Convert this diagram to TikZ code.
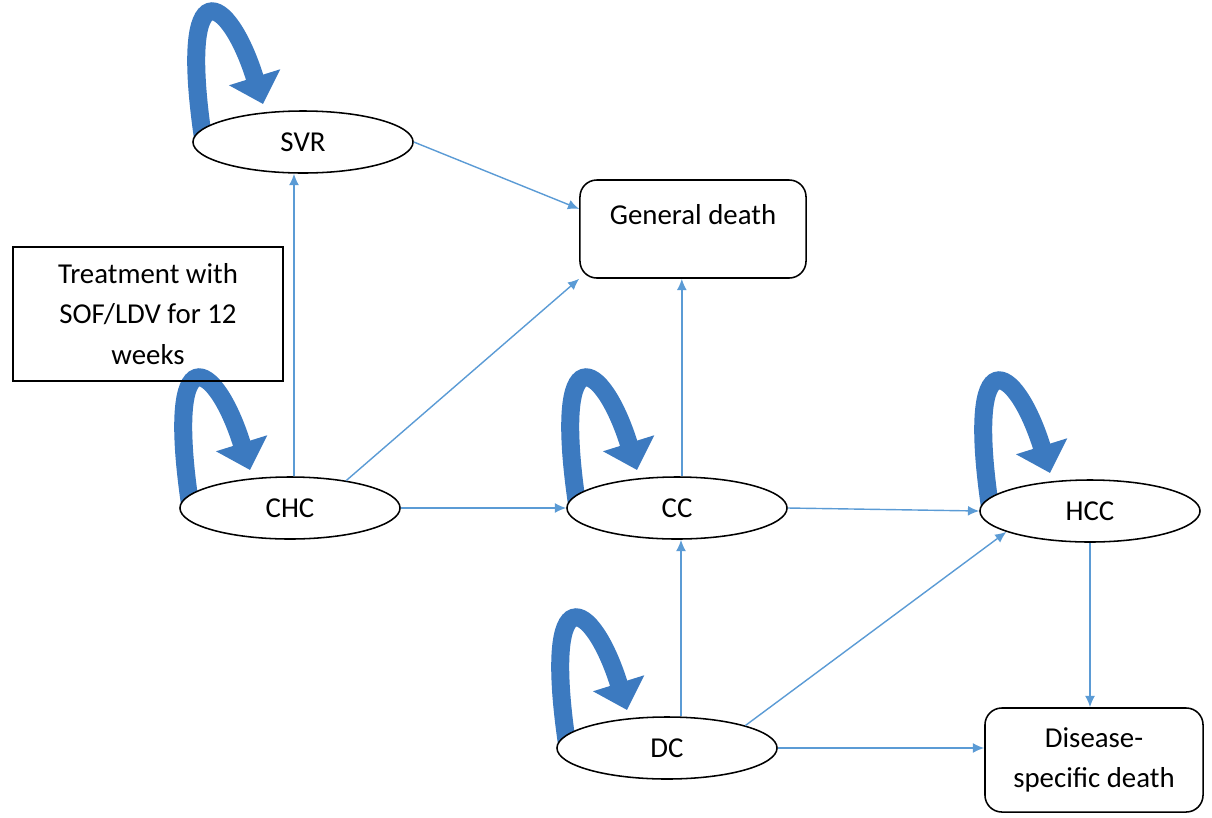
\documentclass[tikz,border=0pt]{standalone}
\usepackage{fontspec}
\setmainfont{Carlito}
\usetikzlibrary{arrows.meta,shapes.geometric,backgrounds}
\definecolor{linkblue}{RGB}{91,155,213}
\definecolor{loopblue}{RGB}{60,122,192}
% thick curved arrow over the left top of a state
\newcommand{\selfloop}[1]{%
  \draw[loopar] ([shift={(-100,-4)}]#1.center) .. controls ([shift={(-125,-175)}]#1.center) and ([shift={(-75,-150)}]#1.center) .. ([shift={(-40,-38)}]#1.center);}

\begin{document}
\begin{tikzpicture}[x=0.025cm,y=-0.025cm,
    font=\fontsize{20.5}{29}\selectfont,
    state/.style={ellipse,draw,line width=1.1pt,fill=white,minimum width=5.5cm,minimum height=1.55cm},
    endbox/.style={rectangle,rounded corners=12pt,draw,line width=1.1pt,fill=white,align=center},
    link/.style={draw=linkblue,line width=1pt,-{Latex[length=8pt,width=7pt]}},
    loopar/.style={draw=loopblue,line width=0.45cm,-{Triangle[width=1.3cm,length=0.7cm]}}]
	\useasboundingbox (0,0) rectangle (1212,817);
	
	\node[state] (SVR) at (303,142) {SVR};
	\node[state] (CHC) at (290,508) {CHC};
	\node[state] (CC) at (677,508) {CC};
	\node[state] (HCC) at (1090,511) {HCC};
	\node[state] (DC) at (667,748) {DC};
	\node[endbox,minimum width=5.65cm,minimum height=2.45cm,text depth=0.75cm] (GD) at (693,229) {General death};
	\node[endbox,minimum width=5.45cm,minimum height=2.6cm] (DSD) at (1094,760) {Disease-\\specific death};
	\node[rectangle,draw,line width=1.1pt,align=center,minimum width=6.75cm,minimum height=3.35cm] (TRT) at (148,314) {Treatment with\\SOF/LDV for 12\\weeks};
	
	\begin{scope}[on background layer]
		\selfloop{SVR}
		\selfloop{CHC}
		\selfloop{CC}
		\selfloop{HCC}
		\selfloop{DC}
	\end{scope}
	
	\draw[link] (SVR.east) -- (GD.170);
	\draw[link] ([xshift=0.1cm]CHC.north) -- ([xshift=0.1cm]CHC.north |- SVR.south);
	\draw[link] (CHC.26) -- (GD.south west);
	\draw[link] (CHC.east) -- (CC.west);
	\draw[link] ([xshift=0.12cm]CC.north) -- ([xshift=0.12cm]CC.north |- GD.south);
	\draw[link] (CC.east) -- (HCC.west);
	\draw[link] (HCC.south) -- (HCC.south |- DSD.north);
	\draw[link] ([xshift=0.1cm]CC.south |- DC.north) -- ([xshift=0.1cm]CC.south);
	\draw[link] (DC.16) -- (HCC.194);
	\draw[link] (DC.east) -- (DC.east -| DSD.west);
\end{tikzpicture}
\end{document}
